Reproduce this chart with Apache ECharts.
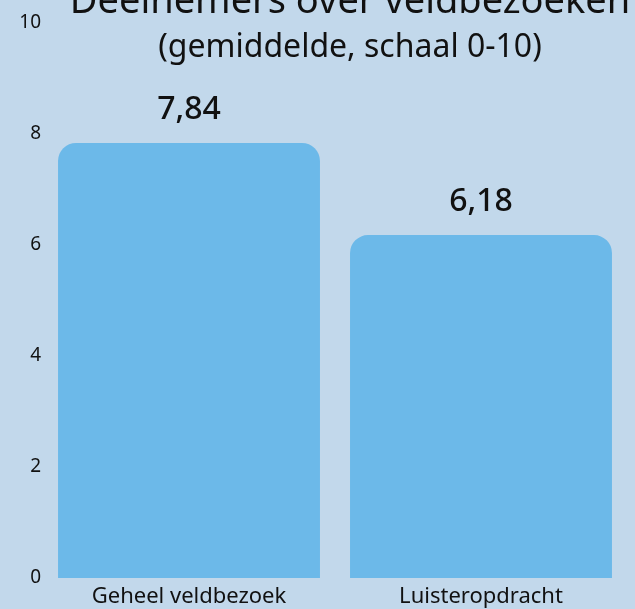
<!DOCTYPE html>
<html>
<head>
<meta charset="utf-8">
<script src="https://cdn.jsdelivr.net/npm/echarts@6/dist/echarts.min.js"></script>
<style>
  html, body { margin: 0; padding: 0; background: #c2d8eb; }
  #chart { width: 635px; height: 609px; }
</style>
</head>
<body>
<div id="chart"></div>
<script>
// data
const categories = ['Geheel veldbezoek', 'Luisteropdracht']
const scores = [7.84, 6.18]
const yTicks = [0, 2, 4, 6, 8, 10]

const FONT = 'Noto Sans'

const chart = echarts.init(document.getElementById('chart'))

const option = {
  backgroundColor: '#c2d8eb',
  title: [
    {
      text: 'Deelnemers over veldbezoeken',
      left: 345,
      top: -22,
      textAlign: 'center',
      textStyle: { fontFamily: FONT, fontSize: 38, fontWeight: 'normal', color: '#111' },
    },
    {
      text: '(gemiddelde, schaal 0-10)',
      left: 345,
      top: 27,
      textAlign: 'center',
      textStyle: { fontFamily: FONT, fontSize: 32, fontWeight: 'normal', color: '#111' },
    },
  ],
  grid: {
    left: 43,
    right: 8,
    top: 23,
    bottom: 31,
    containLabel: false,
  },
  xAxis: {
    type: 'category',
    data: categories,
    axisLine: { show: false },
    axisTick: { show: false },
    axisLabel: {
      color: '#111',
      fontFamily: FONT,
      fontSize: 22,
      margin: 8,
    },
  },
  yAxis: {
    type: 'value',
    min: yTicks[0],
    max: yTicks[yTicks.length - 1],
    interval: 2,
    splitLine: { show: false },
    axisLine: { show: false },
    axisTick: { show: false },
    axisLabel: {
      color: '#111',
      fontFamily: FONT,
      fontSize: 19,
      margin: 2,
    },
  },
  series: [
    {
      type: 'bar',
      data: scores,
      barCategoryGap: '10.3%',
      itemStyle: {
        color: '#6cb9e9',
        borderRadius: [18, 18, 0, 0],
      },
      label: {
        show: true,
        position: 'top',
        distance: 17,
        color: '#111',
        fontFamily: FONT,
        fontSize: 32,
        fontWeight: 500,
        formatter: (p) => p.value.toFixed(2).replace('.', ','),
      },
    },
  ],
}

chart.setOption(option)
</script>
</body>
</html>
